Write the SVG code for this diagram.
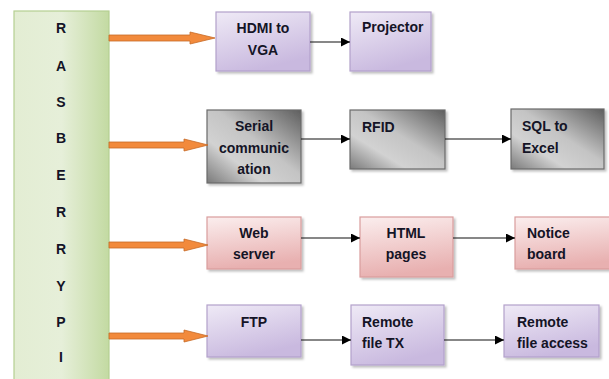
<svg xmlns="http://www.w3.org/2000/svg" width="609" height="379" viewBox="0 0 609 379">
<defs>
<linearGradient id="gGreen" x1="0" y1="0" x2="1" y2="0">
<stop offset="0" stop-color="#e3edd3"/><stop offset="0.5" stop-color="#e6efd9"/><stop offset="1" stop-color="#c3daa2"/>
</linearGradient>
<linearGradient id="gPurple" x1="0" y1="0" x2="0.4" y2="1">
<stop offset="0" stop-color="#efeaf6"/><stop offset="1" stop-color="#c9b9df"/>
</linearGradient>
<linearGradient id="gPink" x1="0" y1="0" x2="0.2" y2="1">
<stop offset="0" stop-color="#fbeeee"/><stop offset="1" stop-color="#e8b0b0"/>
</linearGradient>
<linearGradient id="gGrey" x1="1" y1="0" x2="0" y2="1">
<stop offset="0" stop-color="#5e5e5e"/><stop offset="0.45" stop-color="#c4c4c4"/><stop offset="0.7" stop-color="#d2d2d2"/><stop offset="1" stop-color="#7a7a7a"/>
</linearGradient>
<filter id="sh" x="-10%" y="-10%" width="130%" height="140%">
<feDropShadow dx="2" dy="2" stdDeviation="1.2" flood-color="#000" flood-opacity="0.25"/>
</filter>
<marker id="ah" viewBox="0 0 10 10" refX="10" refY="5" markerWidth="9" markerHeight="9" markerUnits="userSpaceOnUse" orient="auto">
<path d="M0,0 L10,5 L0,10 z" fill="#000"/>
</marker>
</defs>
<style>
.t{font-family:"Liberation Sans",Arial,sans-serif;font-weight:bold;font-size:14px;fill:#141426}
.c{text-anchor:middle}
.pur{fill:url(#gPurple);stroke:#b3a1cb;stroke-width:1.2;filter:url(#sh)}
.pnk{fill:url(#gPink);stroke:#d99d9d;stroke-width:1.2;filter:url(#sh)}
.gry{fill:url(#gGrey);stroke:#6a6a6a;stroke-width:1.2;filter:url(#sh)}
.ln{stroke:#111;stroke-width:1.2;fill:none;marker-end:url(#ah)}
.or{fill:#f28a3c;stroke:#c76a26;stroke-width:0.8}
</style>
<rect width="609" height="379" fill="#fff"/>

<g id="raspberry">
<rect x="14" y="11" width="95" height="372" fill="url(#gGreen)" stroke="#b5cf92" stroke-width="1.2"/>
<text class="t c" x="61" y="33">R</text>
<text class="t c" x="61" y="71">A</text>
<text class="t c" x="61" y="107">S</text>
<text class="t c" x="61" y="143">B</text>
<text class="t c" x="61" y="180">E</text>
<text class="t c" x="61" y="217">R</text>
<text class="t c" x="61" y="254">R</text>
<text class="t c" x="61" y="291">Y</text>
<text class="t c" x="61" y="327">P</text>
<text class="t c" x="61" y="362">I</text>
</g>

<g id="hdmi"><rect class="pur" x="216" y="12" width="94" height="59"/>
<text class="t c" x="263" y="33">HDMI to</text><text class="t c" x="263" y="55">VGA</text></g>
<g id="projector"><rect class="pur" x="350" y="12" width="81" height="59"/>
<text class="t" x="362" y="32">Projector</text></g>
<g id="serial"><rect class="gry" x="207" y="110" width="94" height="73"/>
<text class="t c" x="254" y="131">Serial</text><text class="t c" x="254" y="153">communic</text><text class="t c" x="254" y="174">ation</text></g>
<g id="rfid"><rect class="gry" x="350" y="110" width="95" height="59"/>
<text class="t" x="362" y="132">RFID</text></g>
<g id="sql"><rect class="gry" x="511" y="109" width="93" height="60"/>
<text class="t" x="522" y="131">SQL to</text><text class="t" x="522" y="153">Excel</text></g>
<g id="web"><rect class="pnk" x="207" y="217" width="94" height="52"/>
<text class="t c" x="254" y="238">Web</text><text class="t c" x="254" y="259">server</text></g>
<g id="html"><rect class="pnk" x="360" y="217" width="93" height="60"/>
<text class="t c" x="406" y="238">HTML</text><text class="t c" x="406" y="259">pages</text></g>
<g id="notice"><rect class="pnk" x="515" y="217" width="100" height="52"/>
<text class="t" x="527" y="238">Notice</text><text class="t" x="527" y="259">board</text></g>
<g id="ftp"><rect class="pur" x="207" y="305" width="94" height="52"/>
<text class="t c" x="254" y="327">FTP</text></g>
<g id="remotetx"><rect class="pur" x="351" y="305" width="93" height="60"/>
<text class="t" x="362" y="327">Remote</text><text class="t" x="362" y="348">file TX</text></g>
<g id="remoteaccess"><rect class="pur" x="504" y="305" width="95" height="52"/>
<text class="t" x="517" y="327">Remote</text><text class="t" x="517" y="348">file access</text></g>

<g id="connectors">
<path class="or" d="M109,35 L190,35 L190,32 L215,38 L190,44 L190,41 L109,41 z"/>
<path class="or" d="M109,142 L184,142 L184,139 L208,145 L184,151 L184,148 L109,148 z"/>
<path class="or" d="M109,242 L184,242 L184,239 L208,245 L184,251 L184,248 L109,248 z"/>
<path class="or" d="M109,333 L184,333 L184,330 L208,336 L184,342 L184,339 L109,339 z"/>
<line class="ln" x1="310" y1="42" x2="350" y2="42"/>
<line class="ln" x1="301" y1="139" x2="350" y2="139"/>
<line class="ln" x1="445" y1="139" x2="511" y2="139"/>
<line class="ln" x1="301" y1="238" x2="360" y2="238"/>
<line class="ln" x1="453" y1="238" x2="515" y2="238"/>
<line class="ln" x1="301" y1="340" x2="351" y2="340"/>
<line class="ln" x1="444" y1="340" x2="504" y2="340"/>
</g>
</svg>
